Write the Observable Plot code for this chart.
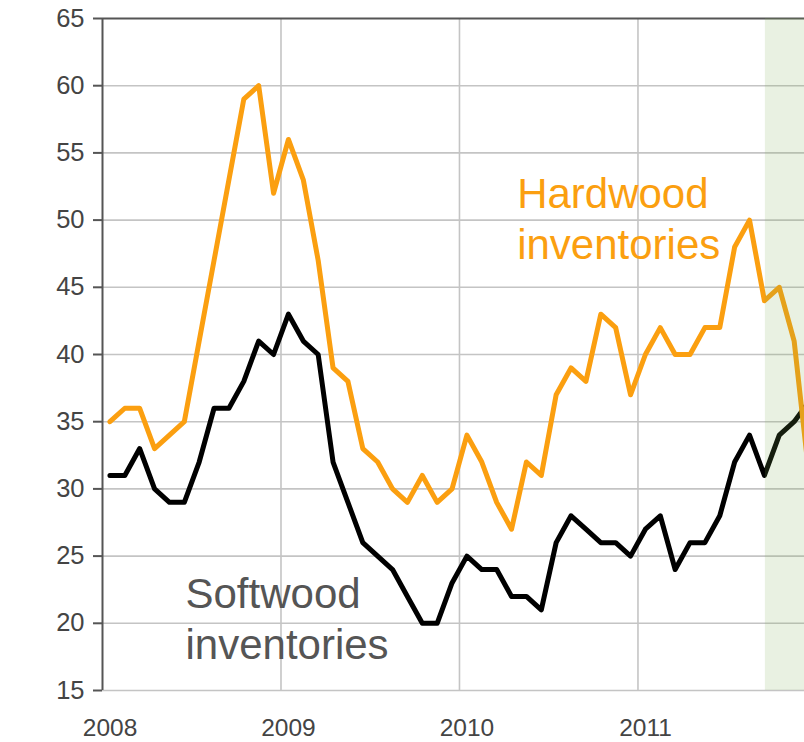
<!DOCTYPE html>
<html>
<head>
<meta charset="utf-8">
<script src="https://cdn.jsdelivr.net/npm/d3@7"></script>
<script src="https://cdn.jsdelivr.net/npm/@observablehq/plot@0.6"></script>
<style>
  html, body { margin: 0; padding: 0; background: #fff; overflow: hidden; }
</style>
</head>
<body>
<div id="chart"></div>
<script>
// Monthly values, Jan 2008 – Dec 2011
const startYear = 2008;
const hardwood = [35,36,36,33,34,35,41,47,53,59,60,52,
                  56,53,47,39,38,33,32,30,29,31,29,30,
                  34,32,29,27,32,31,37,39,38,43,42,37,
                  40,42,40,40,42,42,48,50,44,45,41,31];
const softwood = [31,31,33,30,29,29,32,36,36,38,41,40,
                  43,41,40,32,29,26,25,24,22,20,20,23,
                  25,24,24,22,22,21,26,28,27,26,26,25,
                  27,28,24,26,26,28,32,34,31,34,35,36.5];
const yearTicks = [2008, 2009, 2010, 2011];
const yTicks = [15,20,25,30,35,40,45,50,55,60,65];
const shadeStart = 2011.714;   // shaded period begins (Sep 2011)
const xEnd = 2011.933;
const labels = ["Hardwood\ninventories", "Softwood\ninventories"];

const rows = [];
hardwood.forEach((v, i) => rows.push({t: startYear + (i + 0.5) / 12, v, s: "Hardwood"}));
softwood.forEach((v, i) => rows.push({t: startYear + (i + 0.5) / 12, v, s: "Softwood"}));

const font = "'Liberation Sans', Arial, Helvetica, sans-serif";

const chart = Plot.plot({
  width: 804,
  height: 742,
  marginLeft: 102,
  marginRight: 0,
  marginTop: 18,
  marginBottom: 52,
  style: {fontFamily: font, background: "#fff", overflow: "hidden"},
  x: {domain: [startYear, xEnd], axis: null},
  y: {domain: [15, 65], axis: null},
  marks: [
    Plot.ruleY(yTicks.slice(0, -1), {stroke: "#c4c4c4", strokeWidth: 1.6}),
    Plot.ruleX(yearTicks.slice(1), {stroke: "#c4c4c4", strokeWidth: 1.6}),
    Plot.ruleY([65], {stroke: "#555", strokeWidth: 2}),
    Plot.line(rows.filter(d => d.s === "Softwood"), {x: "t", y: "v", stroke: "#000", strokeWidth: 5, strokeLinejoin: "round", clip: true}),
    Plot.line(rows.filter(d => d.s === "Hardwood"), {x: "t", y: "v", stroke: "#fb9f10", strokeWidth: 5, strokeLinejoin: "round", clip: true}),
    Plot.rect([{x1: shadeStart, x2: xEnd}], {x1: "x1", x2: "x2", y1: 15, y2: 65, fill: "#7fae52", fillOpacity: 0.17}),
    Plot.ruleX([startYear], {stroke: "#555", strokeWidth: 2}),
    Plot.axisY(yTicks, {label: null, tickSize: 9, tickPadding: 9, fontSize: 25.5, fill: "#444", stroke: "#555", strokeWidth: 2, tickFormat: d => String(d)}),
    Plot.axisX(yearTicks, {label: null, tickSize: 0, tickPadding: 28, fontSize: 24.5, fill: "#444", dx: 7.5, tickFormat: d => String(d)}),
    Plot.text([labels[0]], {x: 2010.323, y: 47.14, text: d => d, textAnchor: "start", lineAnchor: "bottom", lineHeight: 1.2, fontSize: 42, fill: "#fb9f10"}),
    Plot.text([labels[1]], {x: 2008.465, y: 17.38, text: d => d, textAnchor: "start", lineAnchor: "bottom", lineHeight: 1.2, fontSize: 42, fill: "#555"})
  ]
});
document.getElementById("chart").appendChild(chart);
</script>
</body>
</html>
